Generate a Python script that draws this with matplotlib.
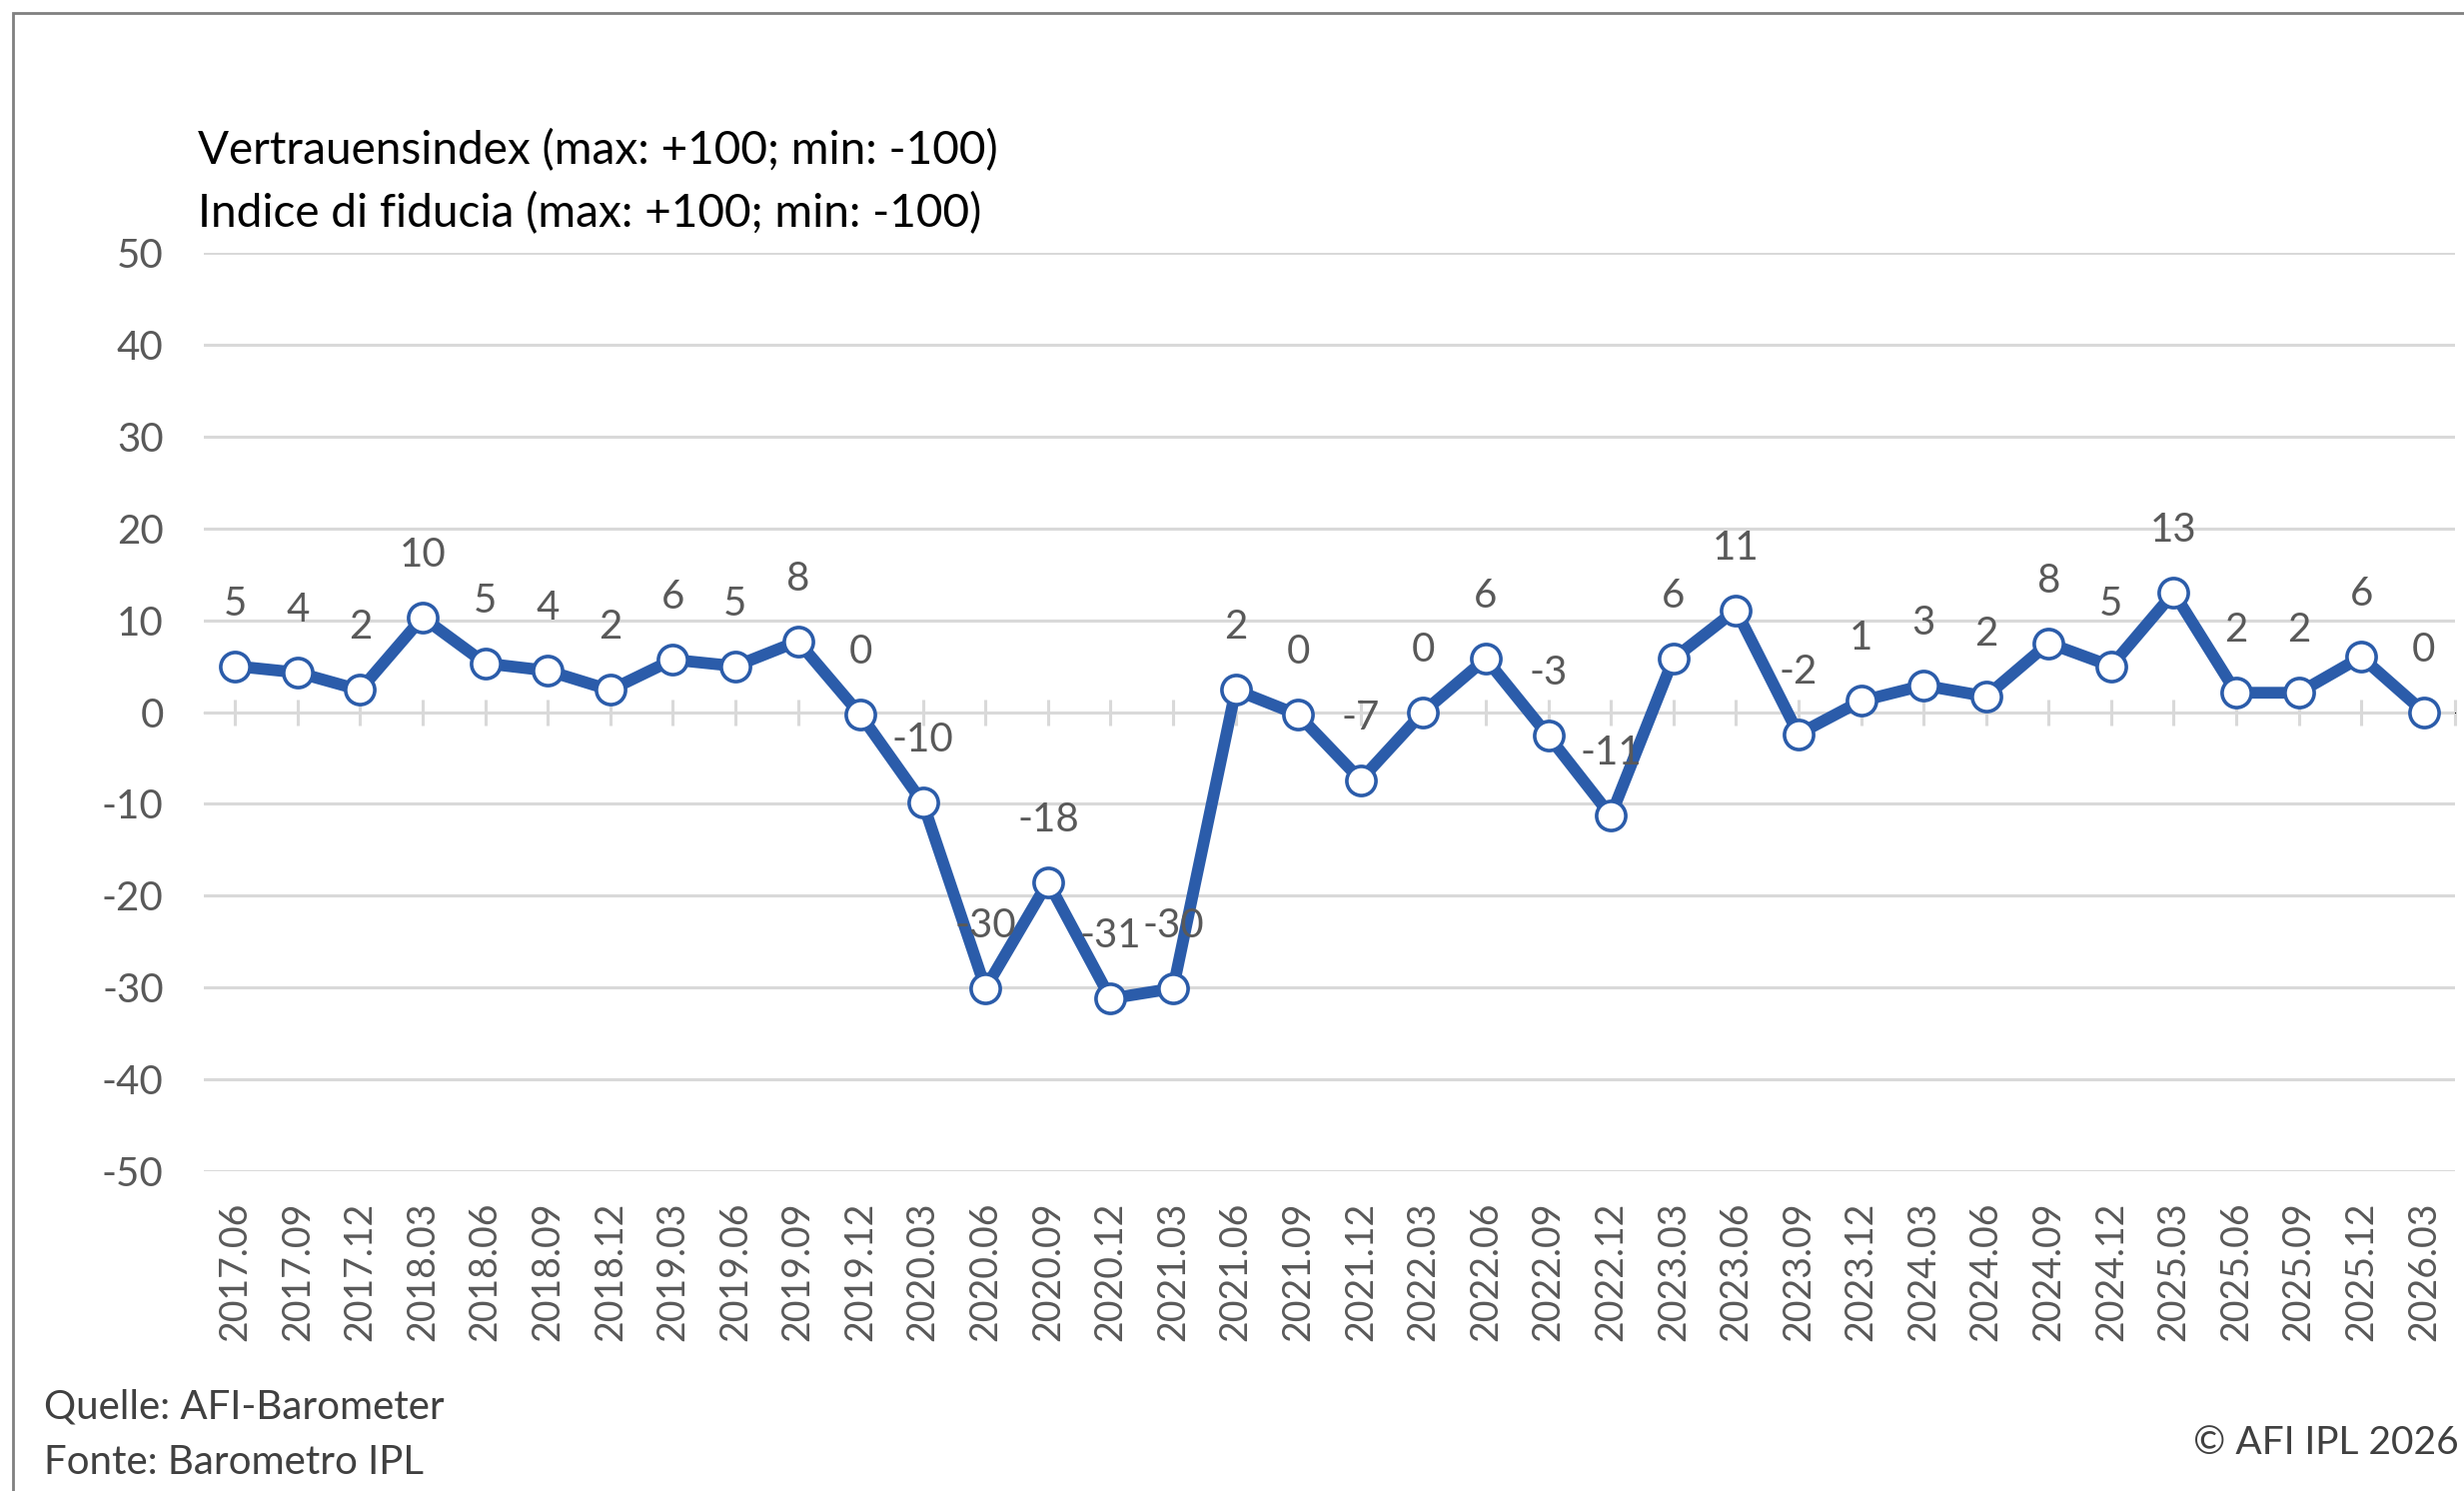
import matplotlib
matplotlib.use("Agg")
import matplotlib.pyplot as plt
from matplotlib.patches import Rectangle

# quarters shown on the x axis
periods = ["2017.06", "2017.09", "2017.12",
           "2018.03", "2018.06", "2018.09", "2018.12",
           "2019.03", "2019.06", "2019.09", "2019.12",
           "2020.03", "2020.06", "2020.09", "2020.12",
           "2021.03", "2021.06", "2021.09", "2021.12",
           "2022.03", "2022.06", "2022.09", "2022.12",
           "2023.03", "2023.06", "2023.09", "2023.12",
           "2024.03", "2024.06", "2024.09", "2024.12",
           "2025.03", "2025.06", "2025.09", "2025.12",
           "2026.03"]
# plotted index and the rounded data labels
values = [5.0, 4.3, 2.4, 10.3, 5.3, 4.5, 2.4, 5.7, 5.0, 7.7, -0.3,
          -9.9, -30.1, -18.5, -31.2, -30.1, 2.4, -0.3, -7.4, 0.0, 5.8,
          -2.6, -11.3, 5.8, 11.1, -2.4, 1.2, 2.9, 1.7, 7.5, 5.0, 13.0,
          2.1, 2.1, 6.0, 0.0]
labels = [5, 4, 2, 10, 5, 4, 2, 6, 5, 8, 0, -10, -30, -18, -31, -30,
          2, 0, -7, 0, 6, -3, -11, 6, 11, -2, 1, 3, 2, 8, 5, 13, 2, 2, 6, 0]
yticks = [50, 40, 30, 20, 10, 0, -10, -20, -30, -40, -50]

BLUE = "#2B5CAA"
GRID = "#D9D9D9"
TXT = "#595959"

plt.rcParams["font.family"] = ["Lato", "DejaVu Sans"]

fig = plt.figure(figsize=(24.66, 14.92), dpi=100)
ax = fig.add_axes([0.0827, 0.2145, 0.9137, 0.6159])

x = list(range(len(periods)))
ax.plot(x, values, color=BLUE, lw=8.5, marker="o", ms=21,
        mfc="white", mec=BLUE, mew=2.6, zorder=5, clip_on=False)
for xi, v, lab in zip(x, values, labels):
    ax.annotate(f"{lab}", (xi, v), xytext=(0, 45), textcoords="offset points",
                ha="center", va="center", fontsize=29, color=TXT, zorder=6)

ax.set_xlim(-0.5, len(periods) - 0.5)
ax.set_ylim(-50, 50)
ax.set_yticks(yticks)
ax.set_yticklabels([str(t) for t in yticks])
ax.yaxis.grid(True, color=GRID, lw=2.2)
ax.set_axisbelow(True)
for s in ax.spines.values():
    s.set_visible(False)
ax.tick_params(axis="y", length=0, pad=29, labelsize=29, labelcolor=TXT)
ax.set_xticks(x)
ax.set_xticklabels(periods, rotation=90, fontsize=27, color=TXT)
ax.tick_params(axis="x", length=0, pad=22)

# category ticks crossing the zero line
sec = ax.secondary_xaxis(0.5)
sec.set_xticks(x + [len(periods) - 0.5])
sec.set_xticklabels([])
sec.tick_params(direction="inout", length=19, width=2.2, color=GRID)
sec.spines["bottom"].set_visible(False)

fig.text(0.0803, 0.8988, "Vertrauensindex (max: +100; min: -100)",
         fontsize=33, color="black", va="center", ha="left")
fig.text(0.0803, 0.8566, "Indice di fiducia (max: +100; min: -100)",
         fontsize=33, color="black", va="center", ha="left")

fig.text(0.0178, 0.0563, "Quelle: AFI-Barometer", fontsize=29, color="#404040", va="center")
fig.text(0.0178, 0.0194, "Fonte: Barometro IPL", fontsize=29, color="#404040", va="center")
fig.text(0.998, 0.0322, "\u00a9 AFI IPL 2026", fontsize=28, color="#404040", va="center", ha="right")

# outer frame (only left and top edges visible in the crop)
fig.add_artist(Rectangle((0.0053, -0.1), 1.2, 1.0913, transform=fig.transFigure,
                         fill=False, edgecolor="#808080", lw=2))

fig.savefig("out.png", dpi=100)
